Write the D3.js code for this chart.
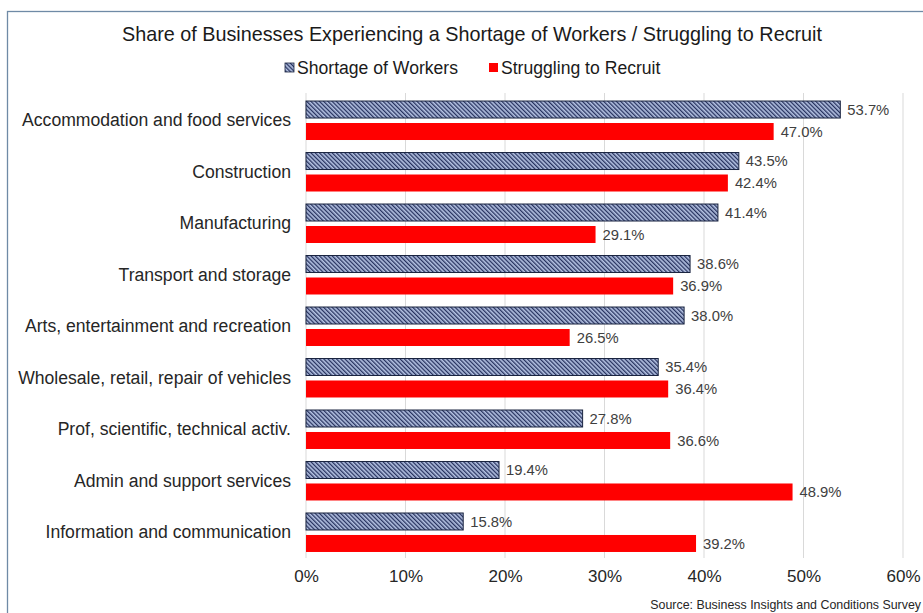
<!DOCTYPE html>
<html>
<head>
<meta charset="utf-8">
<script src="https://cdn.jsdelivr.net/npm/d3@7/dist/d3.min.js"></script>
<style>
  html, body { margin: 0; padding: 0; background: #fff; }
  svg { display: block; font-family: "Liberation Sans", Arial, sans-serif; }
</style>
</head>
<body>
<svg id="chart" width="923" height="613"></svg>
<script>
// Industries, top to bottom
const categories = [
  "Accommodation and food services",
  "Construction",
  "Manufacturing",
  "Transport and storage",
  "Arts, entertainment and recreation",
  "Wholesale, retail, repair of vehicles",
  "Prof, scientific, technical activ.",
  "Admin and support services",
  "Information and communication"
];
const seriesNames = ["Shortage of Workers", "Struggling to Recruit"];
const shortageOfWorkers = [53.7, 43.5, 41.4, 38.6, 38.0, 35.4, 27.8, 19.4, 15.8];
const strugglingToRecruit = [47.0, 42.4, 29.1, 36.9, 26.5, 36.4, 36.6, 48.9, 39.2];
const xTicks = [0, 10, 20, 30, 40, 50, 60];

const svg = d3.select("#chart");
const FONT = "Liberation Sans, Arial, sans-serif";

// hatched fill for the first series (lines running top-left to bottom-right)
const defs = svg.append("defs");
const pat = defs.append("pattern")
  .attr("id", "hatch")
  .attr("patternUnits", "userSpaceOnUse")
  .attr("width", 3).attr("height", 3)
  .attr("patternTransform", "rotate(-45)");
pat.append("rect").attr("width", 3).attr("height", 3).attr("fill", "#b4c2e2");
pat.append("rect").attr("x", 0).attr("width", 1.3).attr("height", 3).attr("fill", "#27325f");

// outer frame
svg.append("rect")
  .attr("x", 7.5).attr("y", 11.5)
  .attr("width", 940).attr("height", 640)
  .attr("fill", "none")
  .attr("stroke", "#6f8aa6")
  .attr("stroke-width", 1.3);

const x = d3.scaleLinear().domain([0, 60]).range([306, 903]);
const y = d3.scaleBand().domain(categories).range([95, 558])
  .paddingInner(0.243).paddingOuter(0.117);
const ySub = d3.scaleBand().domain(seriesNames).range([0, y.bandwidth()])
  .paddingInner(0.227).paddingOuter(0);

// vertical gridlines
svg.append("g").selectAll("line").data(xTicks).join("line")
  .attr("x1", d => x(d)).attr("x2", d => x(d))
  .attr("y1", 93).attr("y2", 558)
  .attr("stroke", "#d9d9d9").attr("stroke-width", 1);

// x axis tick labels
const xAxis = d3.axisBottom(x).tickValues(xTicks).tickFormat(d => d + "%").tickSize(0).tickPadding(0);
const gx = svg.append("g").attr("transform", "translate(0,570)").call(xAxis);
gx.select(".domain").remove();
gx.selectAll("text")
  .attr("font-size", 17)
  .attr("font-family", FONT)
  .attr("fill", "#262626");

// category labels
const yAxis = d3.axisLeft(y).tickSize(0).tickPadding(0);
const gy = svg.append("g").attr("transform", "translate(291,0)").call(yAxis);
gy.select(".domain").remove();
gy.selectAll("text")
  .attr("font-size", 17.6)
  .attr("font-family", FONT)
  .attr("fill", "#262626");

const rows = categories.map((c, i) => ({
  cat: c,
  values: [
    { s: seriesNames[0], v: shortageOfWorkers[i] },
    { s: seriesNames[1], v: strugglingToRecruit[i] }
  ]
}));

const groups = svg.append("g").selectAll("g").data(rows).join("g")
  .attr("transform", d => `translate(0,${y(d.cat)})`);

groups.selectAll("rect").data(d => d.values).join("rect")
  .attr("x", x(0))
  .attr("y", d => ySub(d.s))
  .attr("width", d => x(d.v) - x(0))
  .attr("height", ySub.bandwidth())
  .attr("fill", d => d.s === seriesNames[0] ? "url(#hatch)" : "#ff0000")
  .attr("stroke", d => d.s === seriesNames[0] ? "#1a2440" : "none")
  .attr("stroke-width", 1);

groups.selectAll("text.val").data(d => d.values).join("text")
  .attr("class", "val")
  .attr("x", d => x(d.v) + 7)
  .attr("y", d => ySub(d.s) + ySub.bandwidth() / 2)
  .attr("dy", "0.36em")
  .attr("font-size", 14.8)
  .attr("fill", "#404040")
  .text(d => d.v.toFixed(1) + "%");

// title
svg.append("text")
  .attr("x", 472).attr("y", 41)
  .attr("text-anchor", "middle")
  .attr("font-size", 19.8)
  .attr("fill", "#1a1a1a")
  .text("Share of Businesses Experiencing a Shortage of Workers / Struggling to Recruit");

// legend
const legend = [
  { name: seriesNames[0], fill: "url(#hatch)", stroke: "#1a2440", x: 285 },
  { name: seriesNames[1], fill: "#ff0000", stroke: "none", x: 489 }
];
const lg = svg.append("g").selectAll("g").data(legend).join("g")
  .attr("transform", d => `translate(${d.x},63)`);
lg.append("rect").attr("width", 9).attr("height", 9)
  .attr("fill", d => d.fill).attr("stroke", d => d.stroke).attr("stroke-width", 0.8);
lg.append("text").attr("x", 12).attr("y", 4.5).attr("dy", "0.36em")
  .attr("font-size", 17.6).attr("fill", "#1a1a1a")
  .text(d => d.name);

// source note
svg.append("text")
  .attr("x", 921).attr("y", 609)
  .attr("text-anchor", "end")
  .attr("font-size", 12.4)
  .attr("fill", "#262626")
  .text("Source: Business Insights and Conditions Survey");
</script>
</body>
</html>
